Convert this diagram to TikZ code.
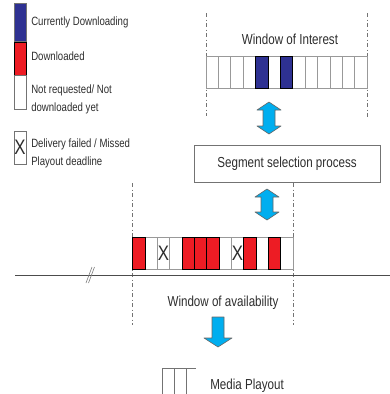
\documentclass[tikz,border=0pt]{standalone}
\usepackage{fontspec}
\setmainfont{Liberation Sans}[FakeStretch=0.8]
\definecolor{dlblue}{RGB}{46,49,146}
\definecolor{dlred}{RGB}{237,28,36}
\definecolor{flowcyan}{RGB}{0,174,239}
\definecolor{txtgray}{RGB}{45,45,45}

\tikzset{
  cell/.style={draw=black!40, minimum width=12.38pt, minimum height=32pt,
    inner sep=0pt, outer sep=0pt, font=\fontsize{21}{21}\selectfont, text=txtgray},
  dlcell/.style={cell, draw=black, fill=dlred},
  bluecell/.style={cell, draw=black, fill=dlblue},
  legbox/.style={draw=black!55, minimum width=12pt, inner sep=0pt, outer sep=0pt},
  legtext/.style={anchor=west, align=left, inner sep=0pt, text=txtgray,
    font=\fontsize{12}{18}\selectfont},
  bigtext/.style={inner sep=0pt, text=txtgray, font=\fontsize{14.5}{17}\selectfont},
  window/.style={black!55, dash pattern=on 4pt off 2.5pt on 1pt off 2.5pt},
  flowarrow/.style={draw=black!60, fill=flowcyan, line join=round}
}

\begin{document}
\begin{tikzpicture}[x=1pt, y=-1pt, semithick]
  \useasboundingbox (0,0) rectangle (390,394);

  % legend
  \node[legbox, fill=dlblue, minimum height=38pt] (legblue) at (20,22) {};
  \node[legbox, draw=black, fill=dlred, minimum height=33pt] (legred) at (20,58.5) {};
  \node[legbox, minimum height=34pt] (legwhite) at (20,92) {};
  \node[legbox, minimum height=33pt, font=\fontsize{21}{21}\selectfont, text=txtgray] (legfail) at (20,147.5) {X};
  \node[legtext] (tblue) at (31,22) {Currently Downloading};
  \node[legtext] (tred) at (31,56) {Downloaded};
  \node[legtext] (twhite) at (31,99) {Not requested/ Not\\downloaded yet};
  \node[legtext] (tfail) at (31,153) {Delivery failed / Missed\\Playout deadline};

  % window of interest
  \draw[window] (206,13) -- (206,116);
  \draw[window] (367,13) -- (367,117);
  \node[bigtext] (woi) at (290,39) {Window of Interest};
  \foreach \i in {1,...,13}
    \node[cell] (woi\i) at ({206+(\i-0.5)*12.38},72) {};
  \foreach \i in {5,7}
    \node[bluecell] at (woi\i) {};

  \draw[flowarrow] (269,102) -- (281,110) -- (275,110) -- (275,126) -- (281,126)
    -- (269,134) -- (257,126) -- (263,126) -- (263,110) -- (257,110) -- cycle;

  % selection
  \node[draw=black!55, minimum width=186pt, minimum height=37pt, inner sep=0pt]
    (select) at (287,163.5) {};
  \node[bigtext] (tselect) at (select) {Segment selection process};

  \draw[flowarrow] (267,189) -- (279,197) -- (273,197) -- (273,212) -- (279,212)
    -- (267,220) -- (255,212) -- (261,212) -- (261,197) -- (255,197) -- cycle;

  % window of availability
  \draw[window] (132.5,183) -- (132.5,325);
  \draw[window] (293,183) -- (293,325);
  \foreach \s/\t [count=\i] in {/,/,/X,/,/,/,/,/,/X,/,/,/,/}
    \node[cell] (woa\i) at ({132.5+(\i-0.5)*12.35},253) {\t};
  \foreach \i in {1,5,6,7,10,12}
    \node[dlcell] at (woa\i) {};
  \draw[black!70, thick] (15,275.5) -- (390,275.5);
  \draw[black!50] (86,283) -- (92,267);
  \draw[black!50] (88.5,283) -- (94.5,267);
  \node[bigtext] (woa) at (223,303) {Window of availability};

  \draw[flowarrow] (212,317) -- (224,317) -- (224,338) -- (232,338) -- (218,347)
    -- (204,338) -- (212,338) -- cycle;

  % playout
  \draw[black!55] (162,394) -- (162,368) -- (196,368);
  \draw[black!55] (174,368) -- (174,394);
  \draw[black!55] (186,368) -- (186,394);
  \node[bigtext, anchor=west] (play) at (210,386) {Media Playout};
\end{tikzpicture}
\end{document}
